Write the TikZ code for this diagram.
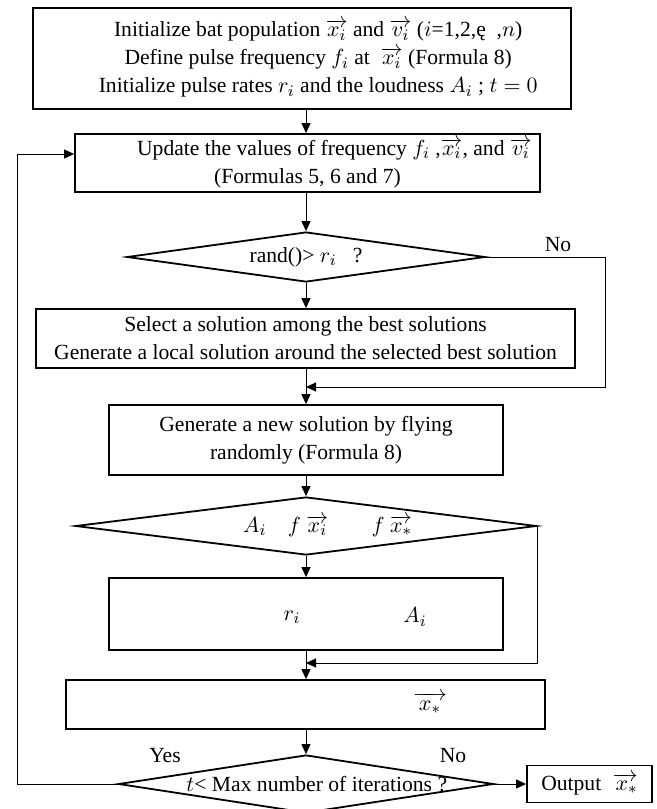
\documentclass[tikz,border=0pt]{standalone}
\usepackage{amsmath}
\usepackage{fontspec}
\setmainfont{Liberation Serif}
\usepackage{tikz}
\usetikzlibrary{shapes.geometric, arrows.meta}
\usetikzlibrary{positioning}
\tikzstyle{arrow} = [line width=0.5pt,-{Triangle[length=5pt,width=4.5pt]}]
\tikzstyle{conn} = [line width=0.5pt]
\tikzstyle{process} = [rectangle, draw, line width=0.9pt, align=center, inner sep=1.5pt]
\tikzstyle{decision} = [diamond, draw, line width=0.9pt, align=center, inner sep=0pt]

\begin{document}
\begin{tikzpicture}[
        x=0.5pt, y=-0.5pt,
        every node/.style={font=\fontsize{10.8}{14}\selectfont}
        ]
        \useasboundingbox (0,0) rectangle (657,809);
        \coordinate (axis) at (306,0);

        % boxes and decisions
        \node[process, minimum width=269pt, minimum height=50.5pt] (init) at (302,58.5)
            {\hspace*{1.5em}Initialize bat population $\overrightarrow{x_i}$ and $\overrightarrow{v_i}$ ($i$=1,2,ę\ \ ,$n$)\\
             \hspace*{1.5em}Define pulse frequency $f_i$ at\ \ $\overrightarrow{x_i}$ (Formula 8)\\
             \hspace*{1.5em}Initialize pulse rates $r_i$ and the loudness $A_i$ ; $t=0$};
        \node[process, minimum width=232.5pt, minimum height=29pt] (update) at (307.5,163)
            {\hspace*{2.5em}Update the values of frequency $f_i$ ,$\overrightarrow{x_i}$, and $\overrightarrow{v_i}$\\
             (Formulas 5, 6 and 7)};
        \node[decision, aspect=7.2, minimum width=179pt, minimum height=25pt] (rand) at (306,257)
            {rand()> $r_i$\ \ \ ?};
        \node[process, minimum width=269.5pt, minimum height=29.5pt] (select) at (305.5,338.5)
            {Select a solution among the best solutions\\
             Generate a local solution around the selected best solution};
        \node[process, minimum width=197pt, minimum height=35pt] (fly) at (306,440)
            {Generate a new solution by flying\\ randomly (Formula 8)};
        \node[decision, aspect=7.9, minimum width=230.5pt, minimum height=29pt] (cmp) at (306,526)
            {\hspace*{2em}$A_i$\quad $f\ \overrightarrow{x_i}$\qquad $f\ \overrightarrow{x_*}$};
        \node[process, minimum width=197pt, minimum height=36pt] (accept) at (306,614) {};
        \node (ri) at (292,617) {$r_i$};
        \node (ai) at (415,617) {$A_i$};
        \node[process, minimum width=239.5pt, minimum height=24.5pt] (rank) at (305.5,704.5) {};
        \node (best) at (430,703) {$\overrightarrow{\;x_*\;}$};
        \node[decision, aspect=6.5, inner sep=-1.5pt, minimum width=187.5pt, minimum height=29pt] (iter) at (306,784)
            {\hspace*{1em}$t$< Max number of iterations ?};
        \node[process, minimum width=62.5pt, minimum height=18.5pt] (output) at (589.5,784)
            {Output\ \ $\overrightarrow{\,x_*}$};

        % labels
        \node (no1) at (558,245) {No};
        \node (yes) at (165,756) {Yes};
        \node (no2) at (453,756) {No};

        % connectors
        \coordinate (join1) at (306,387);
        \coordinate (join2) at (306,663);
        \coordinate (loop) at (17,784);
        \draw[arrow] (init.south -| axis) -- (update.north -| axis);
        \draw[arrow] (update.south -| axis) -- (rand.north);
        \draw[arrow] (rand.south) -- (select.north -| axis);
        \draw[arrow] (select.south -| axis) -- (fly.north -| axis);
        \draw[arrow] (rand.east) -- ++(120,0) |- (join1);
        \draw[arrow] (fly.south -| axis) -- (cmp.north);
        \draw[arrow] (cmp.south) -- (accept.north);
        \draw[arrow] (cmp.east) |- (join2);
        \draw[arrow] (accept.south) -- (rank.north -| axis);
        \draw[arrow] (rank.south -| axis) -- (iter.north);
        \draw[arrow] (iter.east) -- (output.west);
        \draw[arrow] (iter.west) -- (loop) |- ([yshift=4.5pt]update.west);
\end{tikzpicture}
\end{document}
